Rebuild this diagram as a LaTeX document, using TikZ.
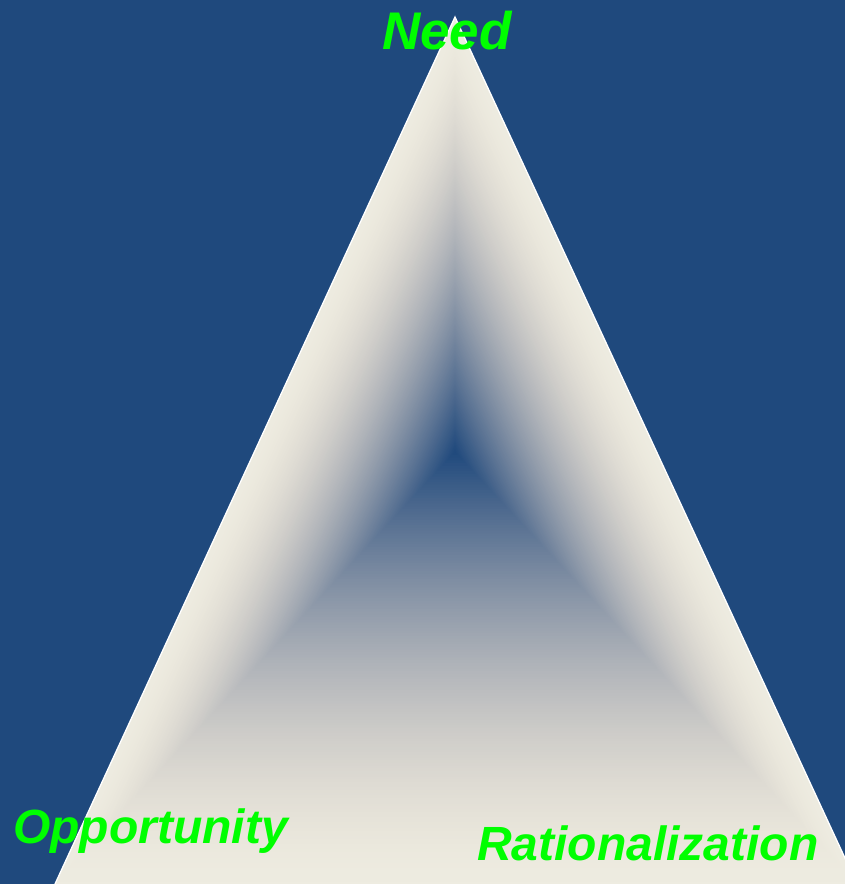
\documentclass[tikz,border=0pt]{standalone}
\usepackage{fontspec}
\setmainfont{Liberation Sans}
\usetikzlibrary{calc}
\definecolor{bgblue}{RGB}{31,73,125}
\definecolor{cream}{RGB}{238,236,225}
\definecolor{labelgreen}{RGB}{0,255,0}
\begin{document}
\begin{tikzpicture}[x=1pt,y=-1pt,
  label text/.style={text=labelgreen, font=\fontsize{48}{52}\selectfont\bfseries\itshape, inner sep=0pt},
  rim/.style={draw=white, line width=1.3pt, line join=miter}]
\useasboundingbox (0,0) rectangle (845,884);
\clip (0,0) rectangle (845,884);
\fill[bgblue] (0,0) rectangle (845,884);

% triangle corners and the focus of the path gradient
\coordinate (A) at (455,17);
\coordinate (L) at (55,884);
\coordinate (R) at (857,884);
\coordinate (C) at (455,452);

% outer colour
\fill[cream] (A) -- (L) -- (R) -- cycle;

% nested triangles shrinking towards the focus, colour moving to dark blue
\foreach \i in {1,...,160} {
  \pgfmathsetmacro\tt{\i/160}
  \pgfmathsetmacro\ss{1-\tt}
  \pgfmathtruncatemacro\cR{238-207*(\tt^1.75)}
  \pgfmathtruncatemacro\cG{236-163*(\tt^1.55)}
  \pgfmathtruncatemacro\cB{225-100*(\tt^1.35)}
  \definecolor{cur}{RGB}{\cR,\cG,\cB}
  \fill[cur] ($(C)!\ss!(A)$) -- ($(C)!\ss!(L)$) -- ($(C)!\ss!(R)$) -- cycle;
}

% thin white rim along the slanted sides
\draw[rim] (L) -- (A) -- (R);

% corner labels
\node[label text, font=\fontsize{53}{56}\selectfont\bfseries\itshape, anchor=base] (need) at (447,49) {Need};
\node[label text, anchor=base west] (opp) at (13,843) {Opportunity};
\node[label text, anchor=base west] (rat) at (477,860) {Rationalization};
\end{tikzpicture}
\end{document}
